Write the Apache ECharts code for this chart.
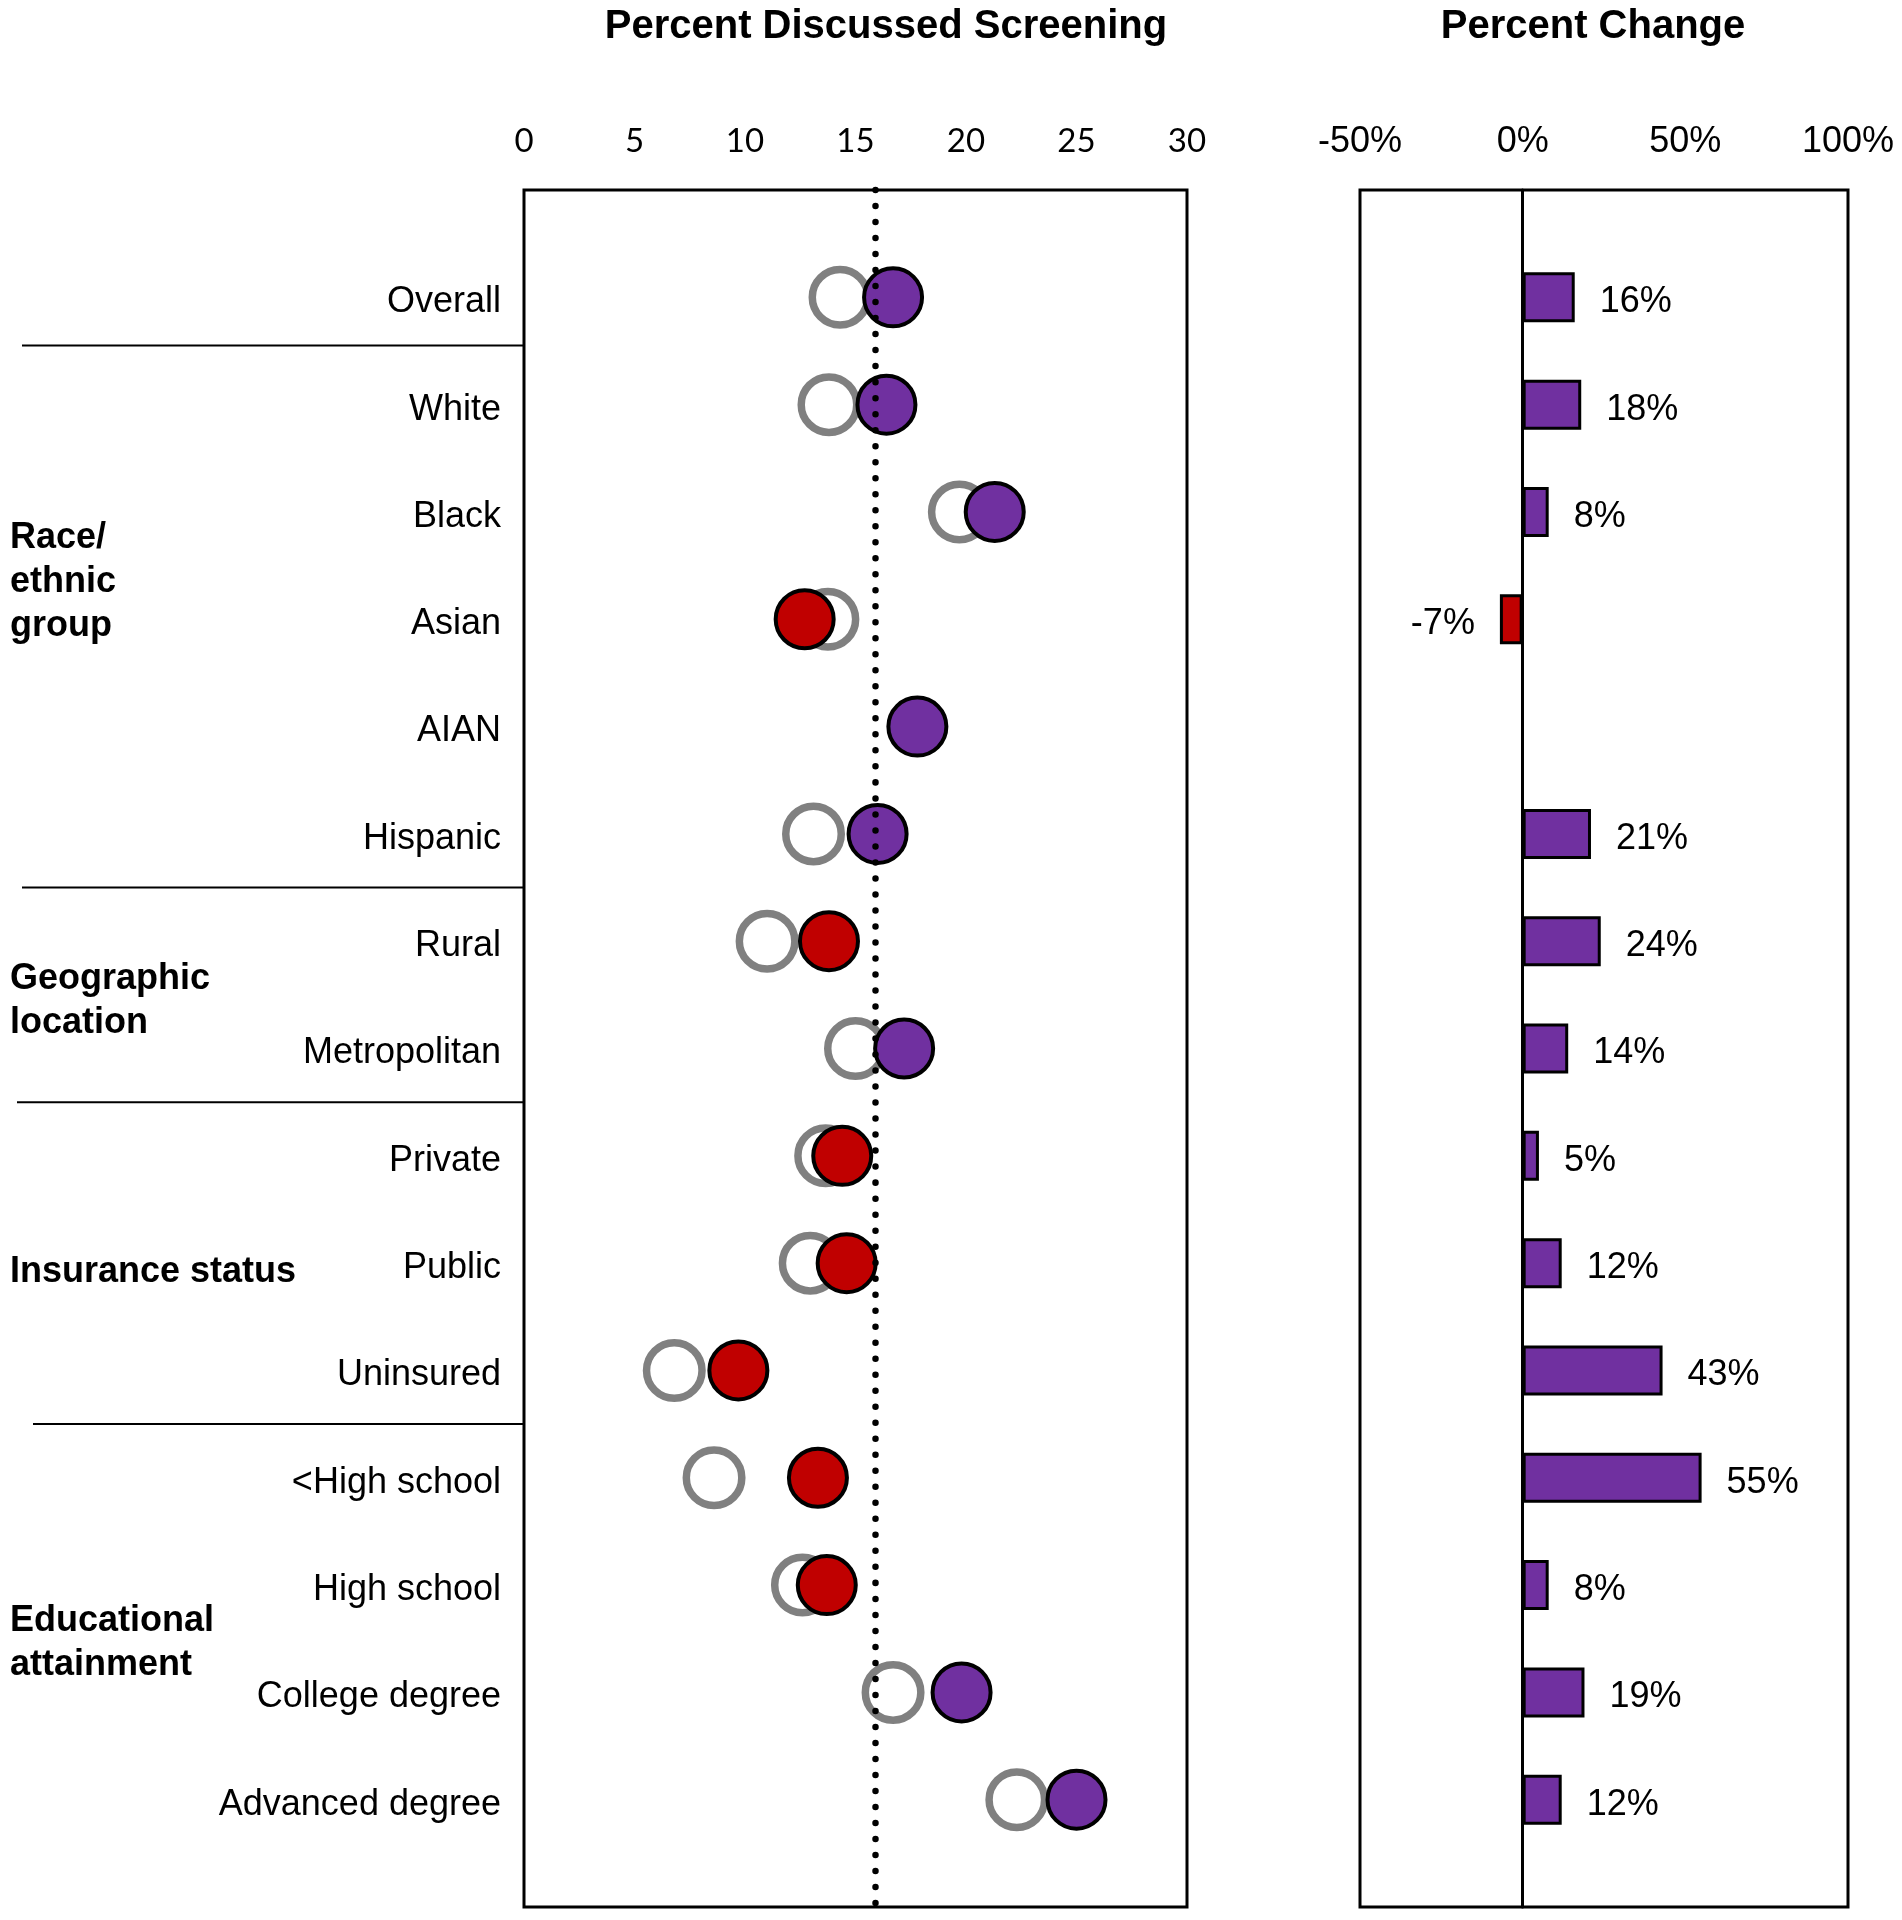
<!DOCTYPE html>
<html><head><meta charset="utf-8">
<script src="https://cdn.jsdelivr.net/npm/echarts@6/dist/echarts.min.js"></script>
<style>html,body{margin:0;padding:0;background:#fff}#c{width:1902px;height:1920px}</style>
</head><body><div id="c"></div>
<script>
// ---- data ----
const categories = ["Overall","White","Black","Asian","AIAN","Hispanic","Rural","Metropolitan","Private","Public","Uninsured","<High school","High school","College degree","Advanced degree"];
const before = [14.3, 13.8, 19.7, 13.75, null, 13.1, 11.0, 15.0, 13.65, 12.95, 6.8, 8.6, 12.6, 16.7, 22.3];
const after  = [16.7, 16.4, 21.3, 12.7, 17.8, 16.0, 13.8, 17.2, 14.4, 14.6, 9.7, 13.3, 13.7, 19.8, 25.0];
const change = [16, 18, 8, -7, null, 21, 24, 14, 5, 12, 43, 55, 8, 19, 12];
const referenceLine = 15.9;
const leftTicks = [0, 5, 10, 15, 20, 25, 30];
const rightTicks = [-50, 0, 50, 100];
const groupNames = ["Race/\nethnic\ngroup", "Geographic\nlocation", "Insurance status", "Educational\nattainment"];
const groupCenters = [3.62, 7.52, 10.05, 13.5];
const separators = [1.45, 6.5, 8.5, 11.5];
const titles = ["Percent Discussed Screening", "Percent Change"];

// ---- styles ----
const FONT = '"Liberation Sans", Arial, sans-serif';
const PURPLE = '#7030A0', RED = '#C00000', GRAY = '#808080';
const yCats = [''].concat(categories).concat(['']);

const chart = echarts.init(document.getElementById('c'), null, {renderer: 'canvas'});

const beforeData = [];
before.forEach((v, i) => { if (v != null) beforeData.push([v, i + 1]); });
const afterData = [];
after.forEach((v, i) => { if (v != null) afterData.push({value: [v, i + 1], itemStyle: {color: v < referenceLine ? RED : PURPLE}}); });
const barData = ['-'].concat(change.map(v => v == null ? '-' : {
  value: v,
  itemStyle: {color: v < 0 ? RED : PURPLE},
  label: {position: v < 0 ? 'left' : 'right'}
})).concat(['-']);

const option = {
  animation: false,
  backgroundColor: '#fff',
  grid: [
    {left: 524, top: 190, width: 663, height: 1717, show: true, borderColor: '#000', borderWidth: 3, backgroundColor: 'transparent'},
    {left: 1360, top: 190, width: 488, height: 1717, show: true, borderColor: '#000', borderWidth: 3, backgroundColor: 'transparent'}
  ],
  xAxis: [
    {gridIndex: 0, type: 'value', position: 'top', min: leftTicks[0], max: leftTicks[leftTicks.length - 1],
     interval: leftTicks[1] - leftTicks[0],
     axisLine: {show: false}, axisTick: {show: false}, splitLine: {show: false},
     axisLabel: {fontFamily: 'Lato', fontSize: 33, color: '#000', margin: 32}},
    {gridIndex: 1, type: 'value', position: 'top', min: rightTicks[0], max: rightTicks[rightTicks.length - 1],
     interval: rightTicks[1] - rightTicks[0],
     axisLine: {show: false}, axisTick: {show: false}, splitLine: {show: false},
     axisLabel: {fontFamily: FONT, fontSize: 36, color: '#000', margin: 30, formatter: '{value}%'}}
  ],
  yAxis: [
    {gridIndex: 0, type: 'category', data: yCats, inverse: true, boundaryGap: false,
     axisLine: {show: false}, axisTick: {show: false}, splitLine: {show: false},
     axisLabel: {color: '#000', margin: 23, interval: 0,
       formatter: v => v ? '{a|' + v + '}' : '',
       rich: {a: {fontFamily: FONT, fontSize: 36, color: '#000', padding: [10, 0, 0, 0]}}}},
    {gridIndex: 1, type: 'category', data: yCats, inverse: true, boundaryGap: false,
     axisLine: {show: true, onZero: true, lineStyle: {color: '#000', width: 3}},
     axisTick: {show: false}, splitLine: {show: false}, axisLabel: {show: false}}
  ],
  series: [
    {type: 'scatter', xAxisIndex: 0, yAxisIndex: 0, data: [], z: 1, silent: true,
     markLine: {silent: true, symbol: ['none', 'none'], label: {show: false},
       lineStyle: {color: '#000', width: 6.5, type: [0.01, 16], cap: 'round'},
       data: [{xAxis: referenceLine}]}},
    {type: 'scatter', xAxisIndex: 0, yAxisIndex: 0, data: beforeData, z: 2, symbol: 'circle', symbolSize: 55.5,
     itemStyle: {color: '#fff', borderColor: GRAY, borderWidth: 7.5, opacity: 1}},
    {type: 'scatter', xAxisIndex: 0, yAxisIndex: 0, data: afterData, z: 3, symbol: 'circle', symbolSize: 58,
     itemStyle: {borderColor: '#000', borderWidth: 4, opacity: 1}},
    {type: 'bar', xAxisIndex: 1, yAxisIndex: 1, data: barData, barWidth: 50, z: 2,
     itemStyle: {borderColor: '#000', borderWidth: 3},
     label: {show: true, distance: 25, offset: [0, 5], fontFamily: FONT, fontSize: 36, color: '#000',
       formatter: p => p.value + '%'}}
  ]
};
chart.setOption(option);

// decorations positioned through the chart's own coordinate system
const y0 = chart.convertToPixel({gridIndex: 0}, [0, 0])[1];
const y1 = chart.convertToPixel({gridIndex: 0}, [0, 1])[1];
const yPix = v => y0 + (y1 - y0) * v;
const leftEdge = chart.convertToPixel({gridIndex: 0}, [leftTicks[0], 0])[0];
const sepStarts = [22, 22, 17, 33];
const graphic = [];
separators.forEach((s, i) => {
  graphic.push({type: 'line', silent: true,
    shape: {x1: sepStarts[i], y1: yPix(s), x2: leftEdge, y2: yPix(s)},
    style: {stroke: '#000', lineWidth: 2}});
});
groupNames.forEach((t, i) => {
  graphic.push({type: 'text', silent: true, x: 10, y: yPix(groupCenters[i]) + 4,
    style: {text: t, font: 'bold 36px ' + FONT, fill: '#000', textAlign: 'left', align: 'left',
      textVerticalAlign: 'middle', verticalAlign: 'middle', lineHeight: 44}});
});
const titleX = [886, 1593];
titles.forEach((t, i) => {
  graphic.push({type: 'text', silent: true, x: titleX[i], y: 27,
    style: {text: t, font: 'bold 40px ' + FONT, fill: '#000', textAlign: 'center', align: 'center',
      textVerticalAlign: 'middle', verticalAlign: 'middle'}});
});
chart.setOption({graphic: graphic});
</script>
</body></html>
